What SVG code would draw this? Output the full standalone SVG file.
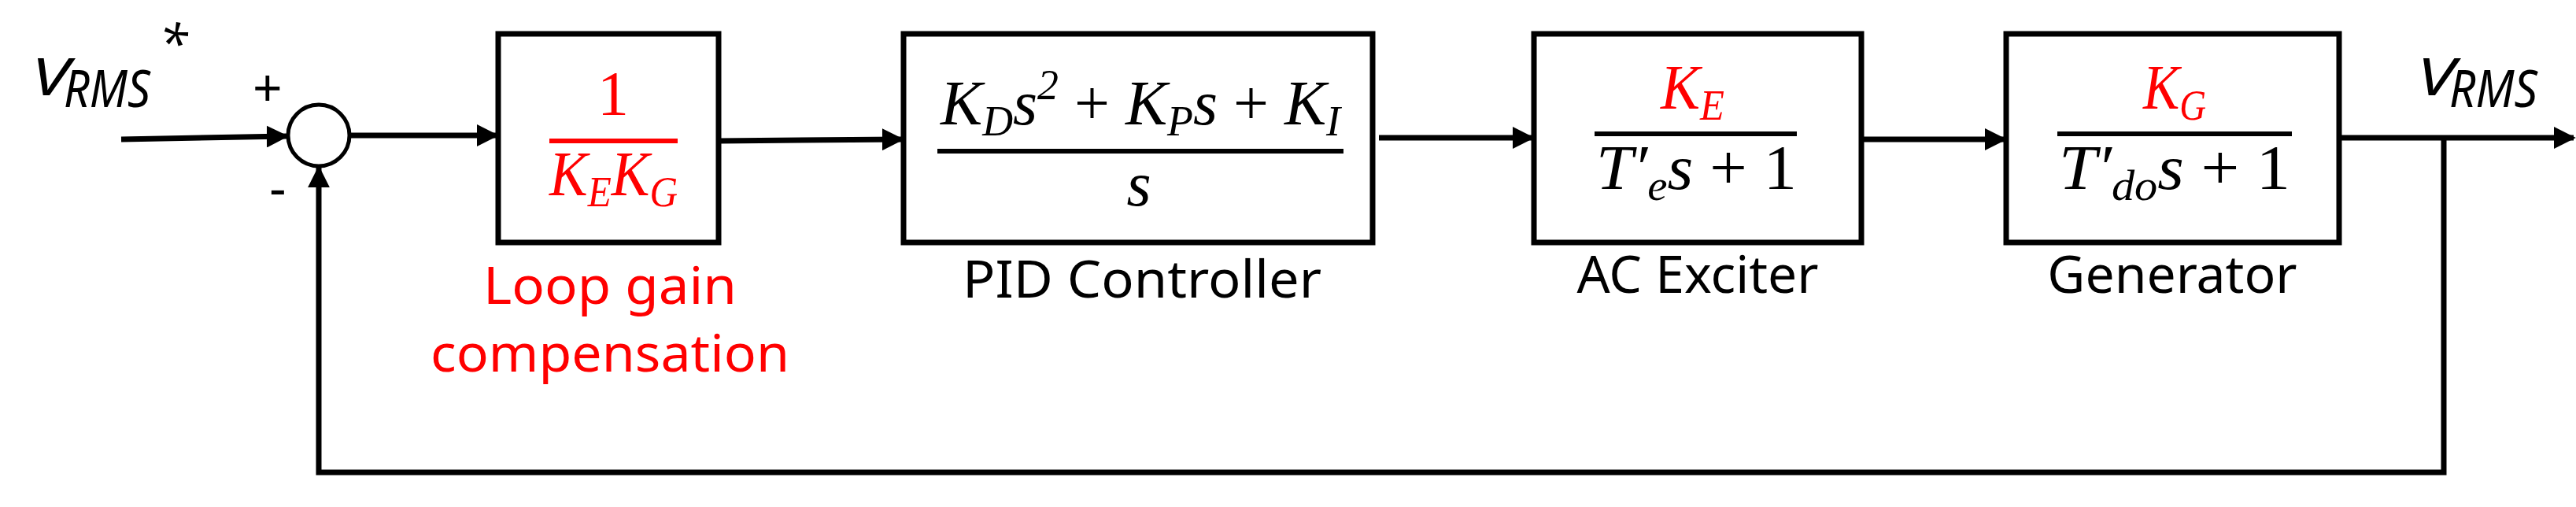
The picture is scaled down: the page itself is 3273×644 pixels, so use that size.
<svg xmlns="http://www.w3.org/2000/svg" width="3273" height="644" viewBox="0 0 3273 644">
<style>
.box{fill:#fff;stroke:#000;stroke-width:7}
.ln{fill:none;stroke:#000;stroke-width:7}
.fr{stroke-width:6}
.m{font-family:"Liberation Serif",serif;font-style:italic;font-size:80px}
.mu{font-family:"Liberation Serif",serif;font-size:80px}
.lb{font-family:"Noto Sans","Open Sans",sans-serif;font-size:66px}
.red{fill:#f00}
</style>
<defs>
<marker id="ah" viewBox="0 0 10 10" refX="9" refY="5" markerWidth="4" markerHeight="4" orient="auto" markerUnits="strokeWidth"><path d="M0,0L10,5L0,10z" fill="#000"/></marker>
</defs>
<g id="connectors">
<line class="ln" x1="154" y1="177" x2="364" y2="173" marker-end="url(#ah)"/>
<line class="ln" x1="444" y1="172" x2="631" y2="172" marker-end="url(#ah)"/>
<line class="ln" x1="913" y1="179" x2="1146" y2="177" marker-end="url(#ah)"/>
<line class="ln" x1="1752" y1="175" x2="1947" y2="175" marker-end="url(#ah)"/>
<line class="ln" x1="2365" y1="177" x2="2547" y2="177" marker-end="url(#ah)"/>
<line class="ln" x1="2972" y1="175" x2="3270" y2="175" marker-end="url(#ah)"/>
<polyline class="ln" points="3105,175 3105,600 405,600 405,213" marker-end="url(#ah)"/>
</g>
<g id="sum">
<circle cx="405" cy="172" r="39" fill="#fff" stroke="#000" stroke-width="5"/>
<text class="lb" x="340" y="135" text-anchor="middle" font-size="50">+</text>
<text class="lb" x="353" y="262" text-anchor="middle" font-size="50">-</text>
</g>
<g id="input">
<text class="lb" font-style="italic" x="40" y="121" font-size="92" textLength="48" lengthAdjust="spacingAndGlyphs">V</text>
<text class="lb" font-style="italic" x="81" y="136" font-size="60" textLength="110" lengthAdjust="spacingAndGlyphs">RMS</text>
<text class="lb" font-style="italic" x="202" y="78" font-size="40">*</text>
</g>
<g id="output">
<text class="lb" font-style="italic" x="3071" y="121" font-size="92" textLength="48" lengthAdjust="spacingAndGlyphs">V</text>
<text class="lb" font-style="italic" x="3112" y="136" font-size="60" textLength="112" lengthAdjust="spacingAndGlyphs">RMS</text>
</g>
<g id="loopgain">
<rect class="box" x="633" y="43" width="280" height="265"/>
<text class="mu red" x="779" y="146" text-anchor="middle" font-size="72">1</text>
<line class="fr" stroke="#f00" x1="698" y1="179" x2="861" y2="179"/>
<text class="m red" x="698" y="248" textLength="163" lengthAdjust="spacingAndGlyphs">K<tspan font-size="54" dy="14">E</tspan><tspan dy="-14">K</tspan><tspan font-size="54" dy="14">G</tspan></text>
<text class="lb red" x="775" y="386" text-anchor="middle" textLength="322" lengthAdjust="spacingAndGlyphs">Loop gain</text>
<text class="lb red" x="775" y="472" text-anchor="middle" textLength="456" lengthAdjust="spacingAndGlyphs">compensation</text>
</g>
<g id="pid">
<rect class="box" x="1148" y="43" width="596" height="265"/>
<text class="m" x="1195" y="158" textLength="508" lengthAdjust="spacingAndGlyphs">K<tspan font-size="54" dy="14">D</tspan><tspan dy="-14">s</tspan><tspan font-size="54" dy="-32">2</tspan><tspan dy="32" font-style="normal"> + </tspan>K<tspan font-size="54" dy="14">P</tspan><tspan dy="-14">s</tspan><tspan font-style="normal"> + </tspan>K<tspan font-size="54" dy="14">I</tspan></text>
<line class="fr" stroke="#000" x1="1191" y1="192" x2="1707" y2="192"/>
<text class="m" x="1447" y="261" text-anchor="middle">s</text>
<text class="lb" x="1451" y="378" text-anchor="middle" textLength="456" lengthAdjust="spacingAndGlyphs">PID Controller</text>
</g>
<g id="exciter">
<rect class="box" x="1949" y="43" width="416" height="265"/>
<text class="m red" x="2110" y="138" textLength="81" lengthAdjust="spacingAndGlyphs">K<tspan font-size="54" dy="14">E</tspan></text>
<line class="fr" stroke="#000" x1="2026" y1="170" x2="2283" y2="170"/>
<text class="m" x="2028" y="240" textLength="255" lengthAdjust="spacingAndGlyphs">T′<tspan font-size="54" dy="14">e</tspan><tspan dy="-14">s</tspan><tspan font-style="normal"> + 1</tspan></text>
<text class="lb" x="2157" y="372" text-anchor="middle">AC Exciter</text>
</g>
<g id="generator">
<rect class="box" x="2549" y="43" width="423" height="265"/>
<text class="m red" x="2723" y="138" textLength="80" lengthAdjust="spacingAndGlyphs">K<tspan font-size="54" dy="14">G</tspan></text>
<line class="fr" stroke="#000" x1="2614" y1="170" x2="2912" y2="170"/>
<text class="m" x="2616" y="240" textLength="294" lengthAdjust="spacingAndGlyphs">T′<tspan font-size="54" dy="14">do</tspan><tspan dy="-14">s</tspan><tspan font-style="normal"> + 1</tspan></text>
<text class="lb" x="2760" y="372" text-anchor="middle">Generator</text>
</g>
</svg>
